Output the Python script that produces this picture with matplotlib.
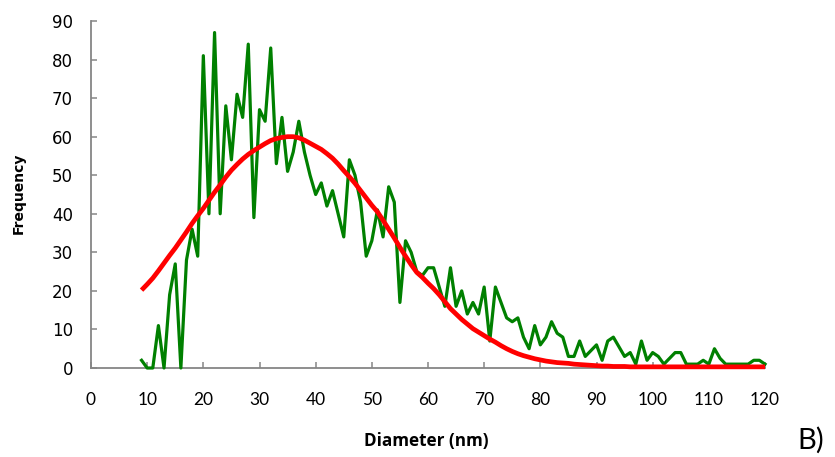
import numpy as np
import matplotlib as mpl
import matplotlib.pyplot as plt

mpl.rcParams.update({
    "font.family": ["Lato", "DejaVu Sans"],
})

# ----------------------------
# Data
# ----------------------------
diameter = list(range(9, 121))

frequency = [
    2, 0, 0, 11, 0, 19, 27, 0, 28, 36,          # 9-18
    29, 81, 40, 87, 40, 68, 54, 71, 65, 84,     # 19-28
    39, 67, 64, 83, 53, 65, 51, 56, 64, 56,     # 29-38
    50, 45, 48, 42, 46, 40, 34, 54, 50, 43,     # 39-48
    29, 33, 41, 34, 47, 43, 17, 33, 30, 25,     # 49-58
    24, 26, 26, 21, 16, 26, 16, 20, 14, 17,     # 59-68
    14, 21, 7, 21, 17, 13, 12, 13, 8, 5,        # 69-78
    11, 6, 8, 12, 9, 8, 3, 3, 7, 3,             # 79-88
    4.5, 6, 2, 7, 8, 5.5, 3, 4, 1, 7,           # 89-98
    2, 4, 3, 1, 2.5, 4, 4, 1, 1, 1,             # 99-108
    2, 1, 5, 2.5, 1, 1, 1, 1, 1, 2,             # 109-118
    2, 1,                                       # 119-120
]

fit = [
    20.2, 21.7, 23.3, 25.2, 27.2, 29.2, 31.1, 33.2, 35.3, 37.5,   # 9-18
    39.5, 41.4, 43.5, 45.6, 47.5, 49.5, 51.3, 52.8, 54.2, 55.4,   # 19-28
    56.4, 57.3, 58.2, 59.0, 59.5, 59.8, 60.0, 60.0, 59.7, 59.1,   # 29-38
    58.3, 57.5, 56.7, 55.6, 54.4, 52.9, 51.2, 49.6, 47.9, 46.0,   # 39-48
    44.1, 42.2, 40.5, 38.3, 36.0, 33.7, 31.3, 29.0, 26.8, 24.8,   # 49-58
    23.5, 22.0, 20.6, 19.0, 17.2, 15.4, 14.0, 12.6, 11.4, 10.2,   # 59-68
    9.3, 8.4, 7.5, 6.7, 5.8, 5.0, 4.3, 3.7, 3.2, 2.8,             # 69-78
    2.4, 2.1, 1.8, 1.6, 1.4, 1.3, 1.2, 1.0, 0.9, 0.8,             # 79-88
    0.7, 0.6, 0.5, 0.5, 0.4, 0.4, 0.4, 0.3, 0.3, 0.3,             # 89-98
    0.3, 0.3, 0.3, 0.3, 0.3, 0.3, 0.3, 0.3, 0.3, 0.3,             # 99-108
    0.3, 0.3, 0.3, 0.3, 0.3, 0.3, 0.3, 0.3, 0.3, 0.3,             # 109-118
    0.3, 0.3,                                                     # 119-120
]

x_ticks = list(range(0, 121, 10))
y_ticks = list(range(0, 91, 10))


def main():
    fig = plt.figure(figsize=(8.35, 4.57), dpi=100)
    ax = fig.add_axes([91 / 835, 1 - 368 / 457, 674 / 835, 347 / 457])

    ax.plot(diameter, frequency, color="#008000", lw=2.3, clip_on=False, zorder=3)
    ax.plot(diameter, fit, color="#ff0000", lw=3.4, clip_on=False, zorder=4,
            solid_capstyle="butt")

    ax.set_xlim(0, 120)
    ax.set_ylim(0, 90)
    ax.set_xticks(x_ticks)
    ax.set_yticks(y_ticks)

    for side in ("top", "right"):
        ax.spines[side].set_visible(False)
    for side in ("left", "bottom"):
        ax.spines[side].set_color("#868686")
        ax.spines[side].set_linewidth(1.3)

    ax.tick_params(axis="both", direction="in", length=4, width=1.1,
                   color="#868686")
    ax.tick_params(axis="x", pad=17, labelsize=12.5)
    ax.tick_params(axis="y", pad=13, labelsize=12)
    for lbl in ax.get_yticklabels():
        lbl.set_family("DejaVu Sans")

    fig.text(426 / 835, 1 - 441 / 457, "Diameter (nm)", ha="center", va="center",
             fontsize=12.3, fontweight="bold", family="Open Sans")
    fig.text(19 / 835, 1 - 193 / 457, "Frequency", ha="center", va="center",
             rotation=90, fontsize=10, fontweight="bold", family="DejaVu Sans")
    fig.text(797 / 835, 1 - 440 / 457, "B)", ha="left", va="center", fontsize=21)

    fig.savefig("out.png", dpi=100)
    plt.close(fig)


if __name__ == "__main__":
    main()
